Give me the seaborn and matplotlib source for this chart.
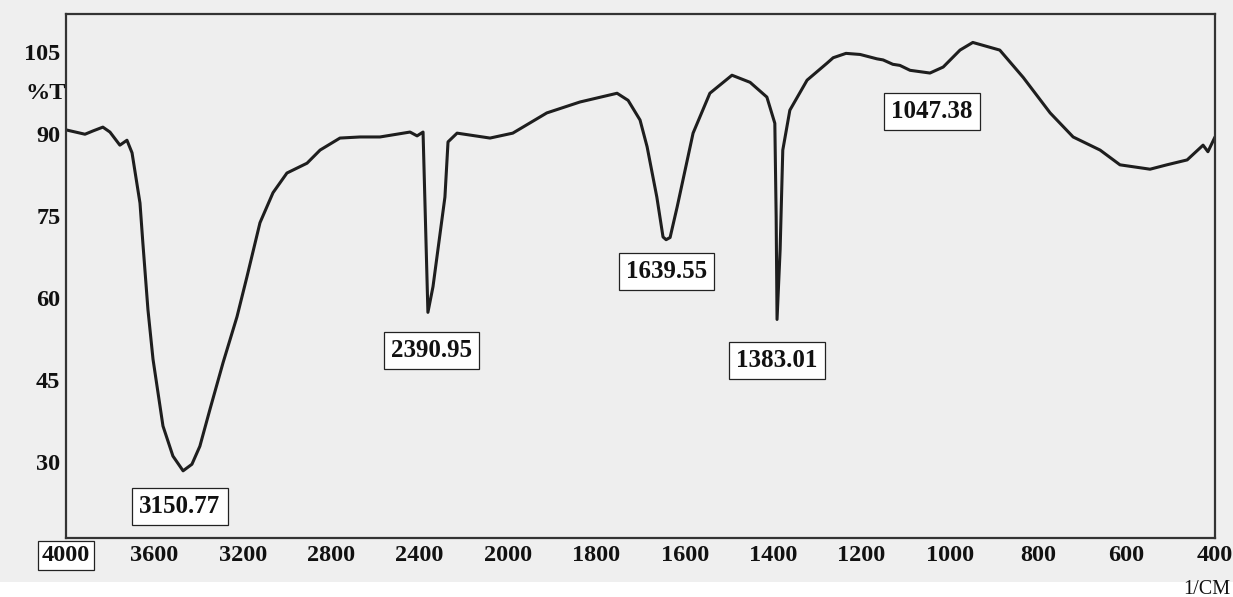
import numpy as np
import pandas as pd
import seaborn as sns
import matplotlib.pyplot as plt
from matplotlib.patches import Rectangle

# spectrum (wavenumber 1/cm, %T)
wavenumber = [4000, 3914, 3878, 3833, 3801, 3756, 3724, 3701, 3665, 3652,
              3629, 3606, 3561, 3516, 3470, 3430, 3394, 3348, 3289, 3226,
              3181, 3122, 3063, 3000, 2909, 2850, 2760, 2669, 2579, 2443,
              2411, 2384, 2366, 2362, 2339, 2285, 2271, 2230, 2081, 1989,
              1912, 1837, 1753, 1728, 1701, 1685, 1663, 1649, 1642, 1633,
              1617, 1581, 1543, 1493, 1452, 1414, 1396, 1393, 1391, 1384,
              1378, 1362, 1323, 1278, 1264, 1235, 1203, 1165, 1151, 1129,
              1113, 1090, 1045, 1015, 977, 948, 887, 834, 773, 721,
              660, 615, 547, 509, 463, 427, 416, 400]
transmittance = [90.8, 90.0, 90.6, 91.3, 90.4, 88.0, 88.9, 86.6, 77.4, 70.1,
                 57.9, 48.8, 36.6, 31.1, 28.4, 29.6, 32.9, 39.7, 48.2, 56.6,
                 63.9, 73.8, 79.3, 82.9, 84.7, 87.1, 89.3, 89.5, 89.5, 90.4,
                 89.7, 90.4, 63.4, 57.4, 62.1, 78.5, 88.6, 90.2, 89.3, 90.2,
                 93.9, 95.9, 97.5, 96.2, 92.6, 87.7, 78.5, 71.2, 70.7, 71.1,
                 76.7, 90.2, 97.5, 100.8, 99.5, 96.8, 92.0, 74.9, 56.1, 68.9,
                 87.1, 94.4, 99.9, 103.0, 104.0, 104.8, 104.6, 103.8, 103.6, 102.8,
                 102.6, 101.7, 101.2, 102.3, 105.4, 106.8, 105.4, 100.4, 93.9, 89.5,
                 87.1, 84.4, 83.6, 84.4, 85.3, 88.0, 86.8, 89.5]

peak_labels = ["3150.77", "2390.95", "1639.55", "1383.01", "1047.38"]
label_x = [3484, 2348, 1642, 1391, 1040]
label_y = [21.8, 50.4, 64.9, 48.6, 94.2]

xticks = [4000, 3600, 3200, 2800, 2400, 2000, 1800, 1600, 1400, 1200, 1000, 800, 600, 400]
yticks = [105, 90, 75, 60, 45, 30]

df = pd.DataFrame({"wn": wavenumber, "T": transmittance})

sns.set_theme(style="white")
plt.rcParams["font.family"] = ["Liberation Serif", "DejaVu Serif"]

fig = plt.figure(figsize=(12.33, 5.97), dpi=100, facecolor="#efefef")
fig.patches.append(Rectangle((0, 0), 1, 0.025, transform=fig.transFigure,
                             facecolor="white", edgecolor="none", zorder=-5))
ax = fig.add_axes([0.0535, 0.0988, 0.9319, 0.8777])
ax.set_facecolor("#eeeeee")


# x axis is compressed 2:1 above 2000 (usual FTIR chart paper)
def fwd(x):
    x = np.asarray(x, dtype=float)
    return np.where(x > 2000, 2000 + (x - 2000) / 2, x)


def inv(f):
    f = np.asarray(f, dtype=float)
    return np.where(f > 2000, 2000 + 2 * (f - 2000), f)


ax.set_xscale("function", functions=(fwd, inv))

sns.lineplot(data=df, x="wn", y="T", ax=ax, sort=False, estimator=None,
             color="#1e1e1e", lw=2.2)

ax.set_xlim(4000, 400)
ax.set_ylim(16.1, 112)
ax.set_xticks(xticks)
ax.set_xticklabels([str(t) for t in xticks])
ax.set_yticks(yticks)
ax.set_yticklabels([str(t) for t in yticks])
ax.tick_params(axis="both", length=0, labelsize=17.5, colors="#111111")
ax.tick_params(axis="x", pad=5)
ax.tick_params(axis="y", pad=4)
for lab in ax.get_xticklabels() + ax.get_yticklabels():
    lab.set_fontweight("bold")
ax.get_xticklabels()[0].set_bbox(dict(boxstyle="square,pad=0.15", fc="white",
                                      ec="#222222", lw=0.9))

ax.set_xlabel("")
ax.set_ylabel("%T", rotation=0, fontsize=17.5, fontweight="bold",
              color="#111111", ha="center", va="center")
ax.yaxis.set_label_coords(-0.018, 0.849)

for sp in ax.spines.values():
    sp.set_color("#333333")
    sp.set_linewidth(1.6)

for txt, x, y in zip(peak_labels, label_x, label_y):
    ax.text(x, y, txt, ha="center", va="center", fontsize=18,
            fontweight="bold", color="#111111",
            bbox=dict(boxstyle="square,pad=0.28", fc="white", ec="#222222", lw=0.9))

fig.text(1207 / 1233, 1 - 589 / 597, "1/CM", ha="center", va="center",
         fontsize=14.5, color="#111111")

fig.savefig("out.png", dpi=100, facecolor=fig.get_facecolor())
